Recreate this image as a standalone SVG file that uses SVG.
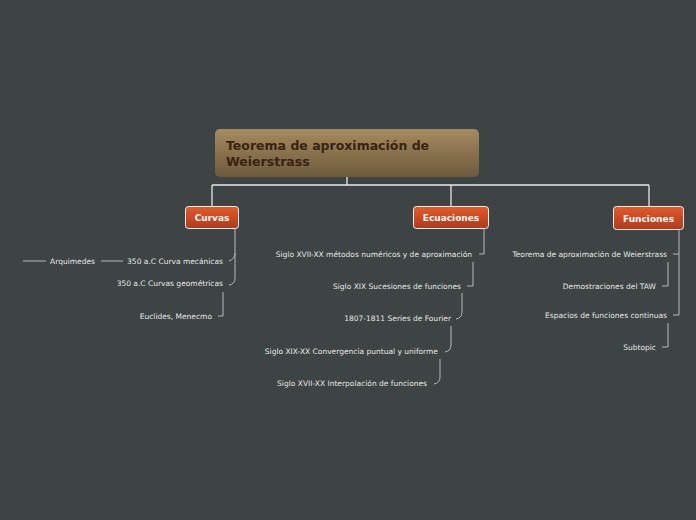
<svg xmlns="http://www.w3.org/2000/svg" width="696" height="520" viewBox="0 0 696 520">
<defs>
<linearGradient id="gRoot" x1="0" y1="0" x2="0" y2="1"><stop offset="0" stop-color="#a48b5f"/><stop offset="1" stop-color="#6d5a3c"/></linearGradient>
<linearGradient id="gMain" x1="0" y1="0" x2="0" y2="1"><stop offset="0" stop-color="#e65a28"/><stop offset="1" stop-color="#b0391c"/></linearGradient>
<style>
.conn{fill:none;stroke:#e8e8e8;stroke-width:1.3}
.sub{fill:none;stroke:#b8b8b8;stroke-width:1}
.main rect{fill:url(#gMain);stroke:#f2f2f2;stroke-width:1}
.main text{font-family:"DejaVu Sans",sans-serif;font-weight:bold;font-size:9px;fill:#ffffff;text-anchor:middle}
.t{font-family:"DejaVu Sans",sans-serif;font-size:7.5px;fill:#e6e6e6;text-anchor:end}
</style>
</defs>
<rect width="696" height="520" fill="#3e4444"/>
<g id="connectors">
<path class="conn" d="M347 177V185M212 185H649M212 185V206M451 185V206M649 185V206"/>
<path class="sub" d="M235 229V253Q235 259 229 261M235 253V278Q235 284 229 285"/>
<path class="sub" d="M101 261H123M23 261H46"/>
<path class="sub" d="M223 292V316H218"/>
<path class="sub" d="M484 229V254H479"/>
<path class="sub" d="M473 262V286H467"/>
<path class="sub" d="M462 293V312Q462 318 456 319"/>
<path class="sub" d="M451 326V345Q451 351 445 352"/>
<path class="sub" d="M440 359V377Q440 383 434 384"/>
<path class="sub" d="M679 230V315H673M679 254H673"/>
<path class="sub" d="M668 262V286H662"/>
<path class="sub" d="M668 323V347H662"/>
</g>
<g id="root"><rect x="215" y="129" width="264" height="48" rx="5" fill="url(#gRoot)"/>
<text x="226" y="150" font-family="DejaVu Sans,sans-serif" font-weight="bold" font-size="12.5" fill="#3a2212">Teorema de aproximación de</text>
<text x="226" y="166" font-family="DejaVu Sans,sans-serif" font-weight="bold" font-size="12.5" fill="#3a2212">Weierstrass</text></g>
<g id="curvas" class="main"><rect x="185.5" y="206.5" width="53" height="22" rx="3"/><text x="212" y="221">Curvas</text></g>
<g id="ecuaciones" class="main"><rect x="413.5" y="206.5" width="75" height="22" rx="3"/><text x="451" y="221">Ecuaciones</text></g>
<g id="funciones" class="main"><rect x="613.5" y="206.5" width="70" height="23" rx="3"/><text x="648.5" y="221.5">Funciones</text></g>
<g id="c1"><text class="t" x="223" y="263.5">350 a.C Curva mecánicas</text></g>
<g id="c1a"><text class="t" x="95" y="263.5">Arquimedes</text></g>
<g id="c2"><text class="t" x="223" y="285.5">350 a.C Curvas geométricas</text></g>
<g id="c2a"><text class="t" x="212" y="318.5">Euclides, Menecmo</text></g>
<g id="e1"><text class="t" x="472" y="256.5">Siglo XVII-XX métodos numéricos y de aproximación</text></g>
<g id="e2"><text class="t" x="461" y="288.5">Siglo XIX Sucesiones de funciones</text></g>
<g id="e3"><text class="t" x="451" y="320.5">1807-1811 Series de Fourier</text></g>
<g id="e4"><text class="t" x="438" y="353.5">Siglo XIX-XX Convergencia puntual y uniforme</text></g>
<g id="e5"><text class="t" x="427" y="385.5">Siglo XVII-XX Interpolación de funciones</text></g>
<g id="f1"><text class="t" x="667" y="256.5">Teorema de aproximación de Weierstrass</text></g>
<g id="f1a"><text class="t" x="656" y="288.5">Demostraciones del TAW</text></g>
<g id="f2"><text class="t" x="667" y="317.5">Espacios de funciones continuas</text></g>
<g id="f2a"><text class="t" x="656" y="349.5">Subtopic</text></g>
</svg>
